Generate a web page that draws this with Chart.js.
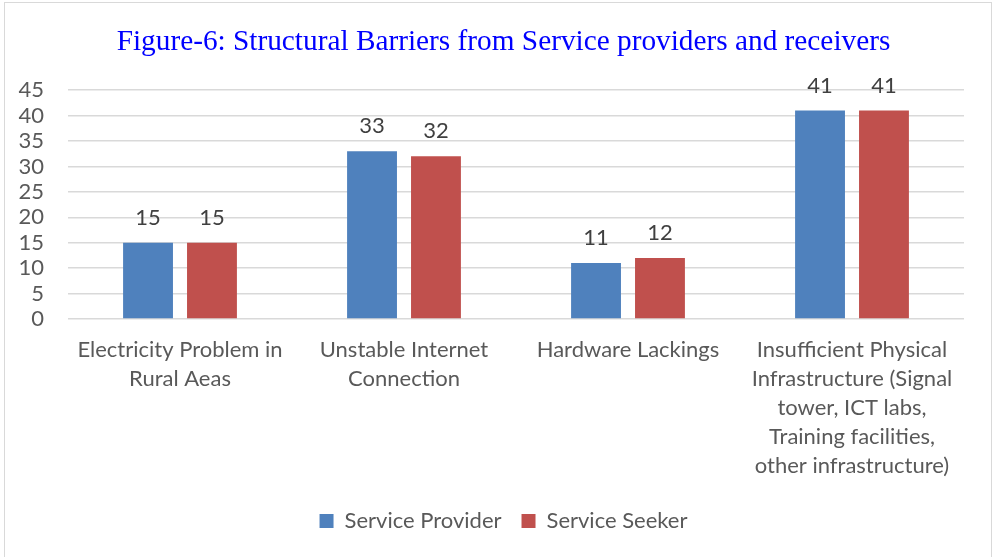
<!DOCTYPE html>
<html>
<head>
<meta charset="utf-8">
<script src="https://cdn.jsdelivr.net/npm/chart.js@4/dist/chart.umd.min.js"></script>
<style>
  html, body { margin: 0; padding: 0; background: #fff; }
  .frame {
    position: absolute; left: 4px; top: 2px; width: 988px; height: 570px;
    border: 1.5px solid #d9d9d9; box-sizing: border-box;
  }
  .wrap { position: absolute; left: 0; top: 0; width: 995px; height: 557px; }
</style>
</head>
<body>
<div class="frame"></div>
<div class="wrap"><canvas id="barriersChart"></canvas></div>
<script>
// categories and series
const categories = [
  ['Electricity Problem in', 'Rural Aeas'],
  ['Unstable Internet', 'Connection'],
  ['Hardware Lackings'],
  ['Insufficient Physical', 'Infrastructure (Signal', 'tower, ICT labs,', 'Training facilities,', 'other infrastructure)']
];
const providerValues = [15, 33, 11, 41];
const seekerValues = [15, 32, 12, 41];
const yTicks = [0, 5, 10, 15, 20, 25, 30, 35, 40, 45];

const baseFont = 'Lato, sans-serif';

// draws the value above each bar
const valueLabels = {
  id: 'valueLabels',
  afterDatasetsDraw(chart) {
    const ctx = chart.ctx;
    ctx.save();
    ctx.font = '22px ' + baseFont;
    ctx.fillStyle = '#404040';
    ctx.textAlign = 'center';
    ctx.textBaseline = 'middle';
    chart.data.datasets.forEach((ds, i) => {
      chart.getDatasetMeta(i).data.forEach((bar, j) => {
        ctx.fillText(ds.data[j], bar.x, bar.y - 25);
      });
    });
    ctx.restore();
  }
};

document.addEventListener('DOMContentLoaded', function() {
  const ctx = document.getElementById('barriersChart');
  new Chart(ctx, {
    type: 'bar',
    data: {
      labels: categories,
      datasets: [
        { label: 'Service Provider', data: providerValues, backgroundColor: '#4f81bd' },
        { label: 'Service Seeker', data: seekerValues, backgroundColor: '#c0504d' }
      ]
    },
    options: {
      responsive: true,
      maintainAspectRatio: false,
      animation: false,
      devicePixelRatio: 1,
      categoryPercentage: 0.571,
      barPercentage: 0.78,
      layout: { padding: { left: 12, right: 0, top: 0, bottom: 15 } },
      plugins: {
        title: {
          display: true,
          text: 'Figure-6: Structural Barriers from Service providers and receivers',
          color: '#0000ff',
          font: { family: '"Liberation Serif", "Times New Roman", serif', size: 29.3, weight: 'normal' },
          padding: { top: 25, bottom: 30 }
        },
        legend: {
          position: 'bottom',
          labels: {
            color: '#595959',
            boxWidth: 14,
            boxHeight: 14,
            padding: 20,
            font: { family: baseFont, size: 22 }
          }
        },
        tooltip: { enabled: false }
      },
      scales: {
        x: {
          grid: { display: false },
          border: { display: false },
          afterFit(scale) { scale.height = 171; },
          ticks: {
            color: '#595959',
            maxRotation: 0,
            autoSkip: false,
            padding: 8,
            font: { family: baseFont, size: 22, lineHeight: 1.32 }
          }
        },
        y: {
          min: 0,
          max: 45,
          afterFit(scale) { scale.width = 56; },
          afterBuildTicks(scale) { scale.ticks = yTicks.map(v => ({ value: v })); },
          grid: { color: '#d9d9d9', lineWidth: 1.5, drawTicks: false },
          border: { display: false },
          ticks: {
            color: '#595959',
            autoSkip: false,
            padding: 24,
            font: { family: baseFont, size: 22 }
          }
        },
        // empty right-hand margin beside the plot
        yRight: {
          position: 'right',
          afterFit(scale) { scale.width = 31; },
          grid: { display: false },
          border: { display: false },
          ticks: { display: false }
        }
      }
    },
    plugins: [valueLabels]
  });
});
</script>
</body>
</html>
